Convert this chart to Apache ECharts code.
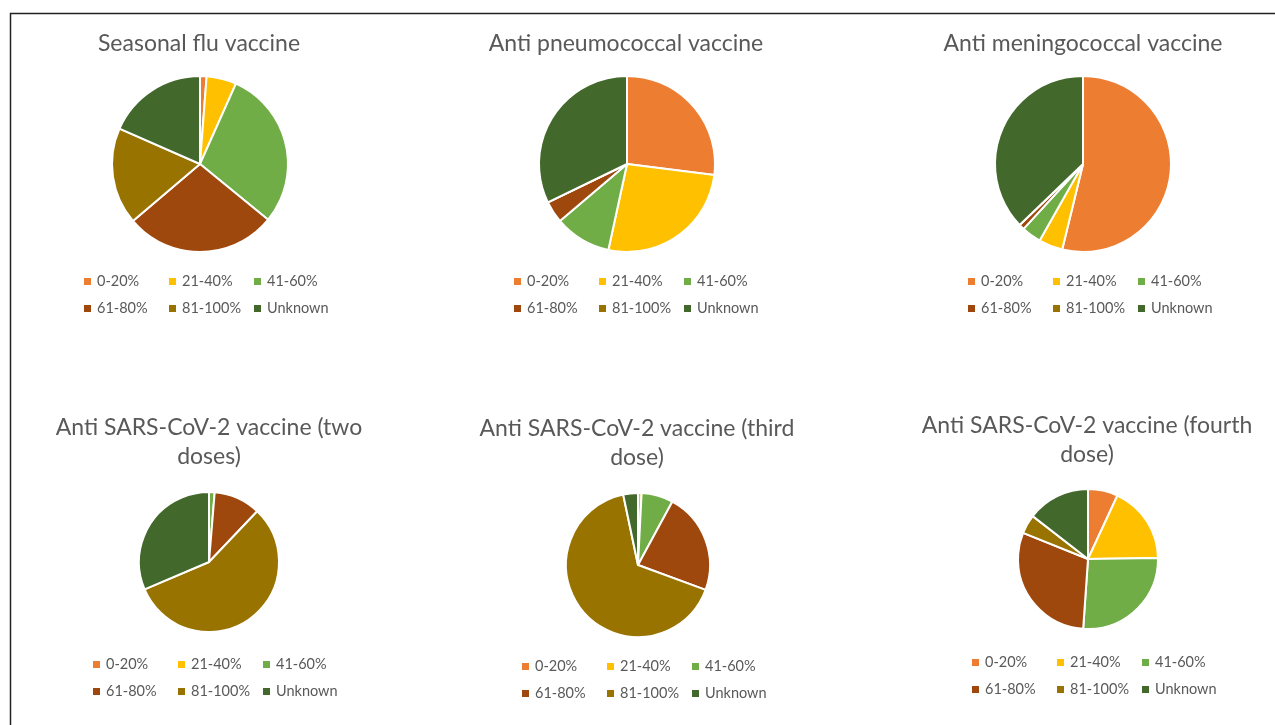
<!DOCTYPE html>
<html>
<head>
    <meta charset="utf-8">
    <title>Vaccination coverage</title>
    <script src="https://cdn.jsdelivr.net/npm/echarts@6/dist/echarts.min.js"></script>
    <style>
        html, body { margin: 0; padding: 0; background: #fff; }
        #main { width: 1275px; height: 725px; }
    </style>
</head>
<body>
<div id="main"></div>
<script>
    // coverage classes
    var categories = ['0-20%', '21-40%', '41-60%', '61-80%', '81-100%', 'Unknown'];
    var colors = ['#ED7D31', '#FFC000', '#70AD47', '#9E480E', '#997300', '#43682B'];

    var titles = [
        'Seasonal flu vaccine',
        'Anti pneumococcal vaccine',
        'Anti meningococcal vaccine',
        'Anti SARS-CoV-2 vaccine (two\ndoses)',
        'Anti SARS-CoV-2 vaccine (third\ndose)',
        'Anti SARS-CoV-2 vaccine (fourth\ndose)'
    ];

    // percentages
    var fluValues = [1.2, 5.5, 29.2, 27.9, 17.8, 18.4];
    var pneumoValues = [27.0, 26.4, 10.4, 4.0, 0, 32.2];
    var meningoValues = [53.8, 4.4, 3.6, 1.0, 0, 37.2];
    var covidTwoValues = [0, 0, 1.3, 10.8, 56.5, 31.4];
    var covidThirdValues = [0, 0.8, 7.1, 22.7, 66.1, 3.3];
    var covidFourthValues = [6.9, 17.9, 26.3, 30.0, 4.4, 14.5];

    var allValues = [fluValues, pneumoValues, meningoValues, covidTwoValues, covidThirdValues, covidFourthValues];

    // where each panel goes
    var panels = [
        {cx: 200, cy: 164, r: 88, tx: 199, ty: 44, lx: 82, ly: 272},
        {cx: 627, cy: 164, r: 88, tx: 626, ty: 44, lx: 512, ly: 272},
        {cx: 1083, cy: 164, r: 88, tx: 1083, ty: 44, lx: 966, ly: 272},
        {cx: 209, cy: 562, r: 70, tx: 209, ty: 428, lx: 91, ly: 655},
        {cx: 638, cy: 565, r: 72, tx: 637, ty: 429, lx: 520, ly: 657},
        {cx: 1088, cy: 559, r: 70, tx: 1087, ty: 426, lx: 970, ly: 653}
    ];

    var font = 'Lato, "Open Sans", sans-serif';
    var textColor = '#595959';

    var series = [];
    var legends = [];
    var graphics = [{
        type: 'rect',
        shape: {x: 10.5, y: 13.5, width: 1400, height: 900},
        style: {fill: 'none', stroke: '#222', lineWidth: 1.5},
        silent: true
    }];

    panels.forEach(function (p, i) {
        series.push({
            name: titles[i],
            type: 'pie',
            center: [p.cx, p.cy],
            radius: [0, p.r],
            startAngle: 90,
            clockwise: true,
            label: {show: false},
            labelLine: {show: false},
            emphasis: {disabled: true},
            itemStyle: {borderColor: '#fff', borderWidth: 2},
            data: categories.map(function (c, k) {
                return {name: c, value: allValues[i][k]};
            })
        });
        legends.push({
            data: categories,
            left: p.lx,
            top: p.ly,
            width: 260,
            orient: 'horizontal',
            padding: 0,
            itemWidth: 9,
            itemHeight: 9,
            itemGap: 8,
            icon: 'rect',
            selectedMode: false,
            textStyle: {
                fontFamily: font,
                fontSize: 14.5,
                color: textColor,
                width: 62,
                lineHeight: 19
            }
        });
        // title, first line centred on ty
        graphics.push({
            type: 'text',
            x: p.tx,
            y: p.ty - 15,
            silent: true,
            style: {
                text: titles[i],
                fontFamily: font,
                fontSize: 23,
                lineHeight: 29,
                fill: textColor,
                align: 'center',
                verticalAlign: 'top'
            }
        });
    });

    var chart = echarts.init(document.getElementById('main'));
    chart.setOption({
        animation: false,
        color: colors,
        legend: legends,
        series: series,
        graphic: graphics
    });
</script>
</body>
</html>
